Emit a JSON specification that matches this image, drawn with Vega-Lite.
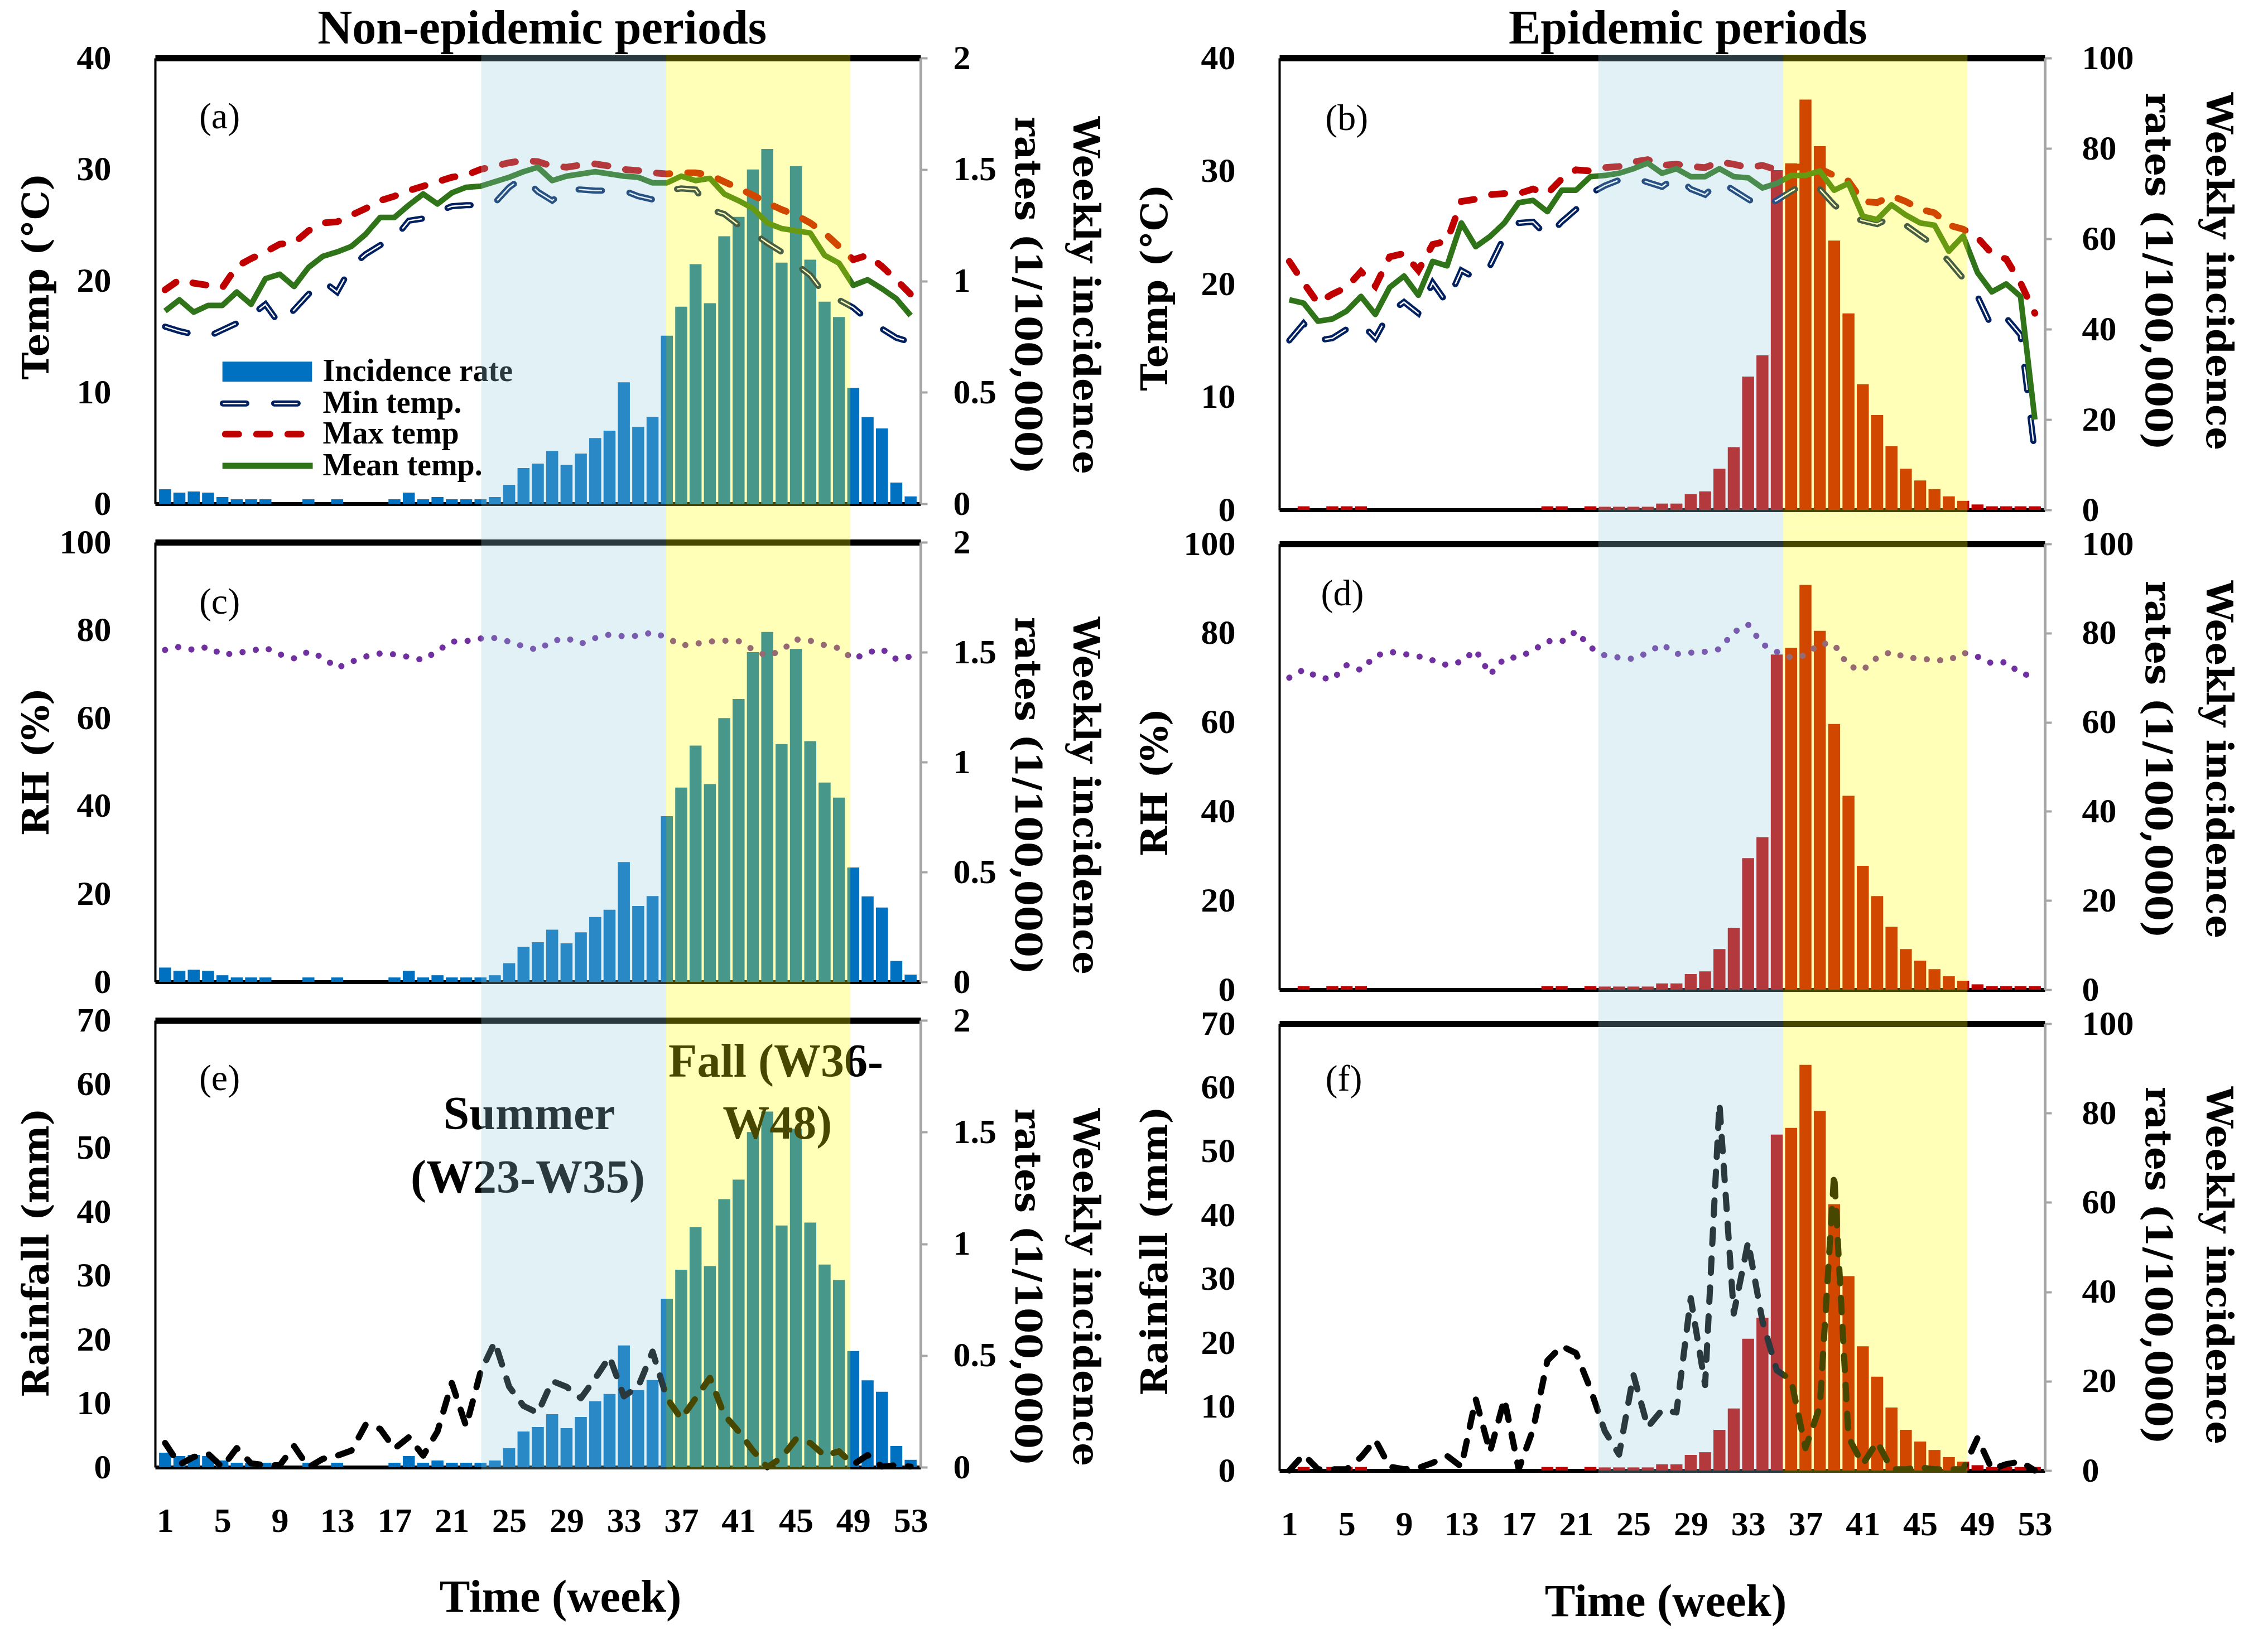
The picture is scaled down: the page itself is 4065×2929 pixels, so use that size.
{
"$schema": "https://vega.github.io/schema/vega-lite/v6.json",
"background": "white",
"padding": {"left": 32, "top": 8, "right": 60, "bottom": 40},
"config": {"view": {"stroke": null}, "axis": {"grid": false}},
"datasets": {
"ne": [
{"week":1,"inc":0.065,"tmin":15.9,"tmax":19.2,"tmean":17.3,"rh":75.5,"rain":3.8},
{"week":2,"inc":0.05,"tmin":15.5,"tmax":20.1,"tmean":18.3,"rh":76.2,"rain":0.4},
{"week":3,"inc":0.055,"tmin":15.2,"tmax":19.8,"tmean":17.2,"rh":75.5,"rain":1.6},
{"week":4,"inc":0.05,"tmin":15.0,"tmax":19.6,"tmean":17.8,"rh":76.2,"rain":2.1},
{"week":5,"inc":0.03,"tmin":15.6,"tmax":19.4,"tmean":17.8,"rh":74.4,"rain":0},
{"week":6,"inc":0.02,"tmin":16.2,"tmax":21.3,"tmean":19.0,"rh":74.8,"rain":3.0},
{"week":7,"inc":0.02,"tmin":16.9,"tmax":22.0,"tmean":17.9,"rh":75.3,"rain":0.6},
{"week":8,"inc":0.02,"tmin":17.9,"tmax":22.6,"tmean":20.2,"rh":76.0,"rain":0.3},
{"week":9,"inc":0,"tmin":16.1,"tmax":23.3,"tmean":20.6,"rh":74.5,"rain":0.3},
{"week":10,"inc":0,"tmin":17.4,"tmax":23.4,"tmean":19.5,"rh":73.6,"rain":3.3},
{"week":11,"inc":0.02,"tmin":18.8,"tmax":24.5,"tmean":21.2,"rh":75.1,"rain":0},
{"week":12,"inc":0,"tmin":20.0,"tmax":25.2,"tmean":22.2,"rh":73.8,"rain":1.3},
{"week":13,"inc":0.02,"tmin":19.0,"tmax":25.3,"tmean":22.6,"rh":71.4,"rain":1.8},
{"week":14,"inc":0,"tmin":21.3,"tmax":25.9,"tmean":23.1,"rh":72.8,"rain":2.6},
{"week":15,"inc":0,"tmin":22.4,"tmax":26.5,"tmean":24.2,"rh":74.0,"rain":6.7},
{"week":16,"inc":0,"tmin":23.2,"tmax":27.2,"tmean":25.7,"rh":74.7,"rain":6.0},
{"week":17,"inc":0.02,"tmin":23.8,"tmax":27.6,"tmean":25.7,"rh":74.5,"rain":2.9},
{"week":18,"inc":0.05,"tmin":25.4,"tmax":28.1,"tmean":26.8,"rh":73.9,"rain":4.7},
{"week":19,"inc":0.02,"tmin":25.6,"tmax":28.5,"tmean":27.8,"rh":73.2,"rain":1.8},
{"week":20,"inc":0.03,"tmin":26.2,"tmax":28.9,"tmean":26.9,"rh":75.3,"rain":5.6},
{"week":21,"inc":0.02,"tmin":26.7,"tmax":29.3,"tmean":27.9,"rh":77.4,"rain":13.2},
{"week":22,"inc":0.02,"tmin":26.8,"tmax":29.5,"tmean":28.4,"rh":77.5,"rain":6.4},
{"week":23,"inc":0.02,"tmin":26.8,"tmax":30.0,"tmean":28.5,"rh":78.1,"rain":14.9},
{"week":24,"inc":0.03,"tmin":27.0,"tmax":30.3,"tmean":28.9,"rh":78.2,"rain":19.6},
{"week":25,"inc":0.085,"tmin":28.4,"tmax":30.6,"tmean":29.3,"rh":77.4,"rain":12.6},
{"week":26,"inc":0.16,"tmin":29.3,"tmax":30.8,"tmean":29.8,"rh":76.3,"rain":9.6},
{"week":27,"inc":0.18,"tmin":28.0,"tmax":30.7,"tmean":30.2,"rh":75.5,"rain":8.5},
{"week":28,"inc":0.237,"tmin":27.2,"tmax":30.3,"tmean":29.0,"rh":77.5,"rain":13.5},
{"week":29,"inc":0.175,"tmin":28.2,"tmax":30.2,"tmean":29.4,"rh":78.2,"rain":12.6},
{"week":30,"inc":0.225,"tmin":28.2,"tmax":30.4,"tmean":29.6,"rh":76.9,"rain":10.8},
{"week":31,"inc":0.295,"tmin":28.1,"tmax":30.5,"tmean":29.8,"rh":78.2,"rain":13.9},
{"week":32,"inc":0.328,"tmin":28.1,"tmax":30.3,"tmean":29.6,"rh":79.0,"rain":17.3},
{"week":33,"inc":0.545,"tmin":28.1,"tmax":30.0,"tmean":29.4,"rh":78.6,"rain":11.1},
{"week":34,"inc":0.345,"tmin":27.6,"tmax":29.9,"tmean":29.3,"rh":78.7,"rain":12.6},
{"week":35,"inc":0.39,"tmin":27.3,"tmax":29.7,"tmean":28.8,"rh":79.5,"rain":18.1},
{"week":36,"inc":0.754,"tmin":28.1,"tmax":29.6,"tmean":28.8,"rh":78.3,"rain":10.8},
{"week":37,"inc":0.884,"tmin":28.3,"tmax":29.7,"tmean":29.4,"rh":76.5,"rain":7.6},
{"week":38,"inc":1.075,"tmin":28.2,"tmax":29.7,"tmean":29.0,"rh":76.9,"rain":10.8},
{"week":39,"inc":0.9,"tmin":26.4,"tmax":29.5,"tmean":29.2,"rh":77.4,"rain":14.0},
{"week":40,"inc":1.2,"tmin":26.0,"tmax":28.9,"tmean":27.8,"rh":77.6,"rain":8.2},
{"week":41,"inc":1.287,"tmin":25.0,"tmax":28.3,"tmean":27.2,"rh":77.5,"rain":5.6},
{"week":42,"inc":1.5,"tmin":24.3,"tmax":27.7,"tmean":26.5,"rh":75.6,"rain":2.6},
{"week":43,"inc":1.592,"tmin":23.4,"tmax":27.0,"tmean":25.2,"rh":74.1,"rain":0},
{"week":44,"inc":1.082,"tmin":22.6,"tmax":26.4,"tmean":24.7,"rh":75.4,"rain":1.5},
{"week":45,"inc":1.515,"tmin":21.5,"tmax":25.9,"tmean":24.5,"rh":77.9,"rain":4.4},
{"week":46,"inc":1.095,"tmin":20.5,"tmax":25.2,"tmean":24.3,"rh":77.6,"rain":3.8},
{"week":47,"inc":0.907,"tmin":18.8,"tmax":24.3,"tmean":22.3,"rh":76.6,"rain":1.8},
{"week":48,"inc":0.838,"tmin":18.3,"tmax":23.1,"tmean":21.6,"rh":75.9,"rain":2.5},
{"week":49,"inc":0.52,"tmin":17.6,"tmax":21.9,"tmean":19.6,"rh":73.4,"rain":0.4},
{"week":50,"inc":0.389,"tmin":16.5,"tmax":22.3,"tmean":20.1,"rh":74.9,"rain":1.9},
{"week":51,"inc":0.338,"tmin":15.7,"tmax":21.3,"tmean":19.3,"rh":75.7,"rain":0.1},
{"week":52,"inc":0.095,"tmin":14.9,"tmax":20.1,"tmean":18.4,"rh":73.4,"rain":0.3},
{"week":53,"inc":0.033,"tmin":14.5,"tmax":18.8,"tmean":16.9,"rh":74.0,"rain":0.1}
],
"ep": [
{"week":1,"inc":0,"tmin":15.0,"tmax":22.0,"tmean":18.6,"rh":70.0,"rain":0},
{"week":2,"inc":0.8,"tmin":16.5,"tmax":20.1,"tmean":18.3,"rh":71.8,"rain":2.5},
{"week":3,"inc":0,"tmin":15.0,"tmax":18.3,"tmean":16.7,"rh":70.1,"rain":0.2},
{"week":4,"inc":0.8,"tmin":15.2,"tmax":19.1,"tmean":16.9,"rh":69.6,"rain":0.2},
{"week":5,"inc":0.8,"tmin":16.0,"tmax":19.7,"tmean":17.6,"rh":72.8,"rain":0.2},
{"week":6,"inc":0.8,"tmin":16.5,"tmax":21.1,"tmean":18.9,"rh":71.7,"rain":2.1},
{"week":7,"inc":0,"tmin":15.2,"tmax":19.8,"tmean":17.3,"rh":74.9,"rain":4.8},
{"week":8,"inc":0,"tmin":17.5,"tmax":22.4,"tmean":19.7,"rh":75.8,"rain":0.6},
{"week":9,"inc":0,"tmin":18.4,"tmax":22.7,"tmean":20.7,"rh":75.3,"rain":0.2},
{"week":10,"inc":0,"tmin":17.4,"tmax":21.2,"tmean":19.0,"rh":74.8,"rain":0.4},
{"week":11,"inc":0,"tmin":20.1,"tmax":23.5,"tmean":22.0,"rh":73.9,"rain":1.2},
{"week":12,"inc":0,"tmin":18.3,"tmax":23.8,"tmean":21.6,"rh":72.8,"rain":2.3},
{"week":13,"inc":0,"tmin":21.2,"tmax":27.3,"tmean":25.4,"rh":73.6,"rain":0.6},
{"week":14,"inc":0,"tmin":20.5,"tmax":27.5,"tmean":23.3,"rh":76.2,"rain":11.2},
{"week":15,"inc":0,"tmin":21.6,"tmax":27.9,"tmean":24.2,"rh":70.7,"rain":2.9},
{"week":16,"inc":0,"tmin":24.2,"tmax":28.0,"tmean":25.4,"rh":74.3,"rain":11.2},
{"week":17,"inc":0,"tmin":25.4,"tmax":28.0,"tmean":27.2,"rh":74.6,"rain":0.2},
{"week":18,"inc":0,"tmin":25.5,"tmax":28.4,"tmean":27.4,"rh":76.1,"rain":6.4},
{"week":19,"inc":0.8,"tmin":24.2,"tmax":28.0,"tmean":26.4,"rh":78.2,"rain":17.2},
{"week":20,"inc":0.8,"tmin":25.5,"tmax":29.3,"tmean":28.3,"rh":78.1,"rain":19.5},
{"week":21,"inc":0,"tmin":26.6,"tmax":30.1,"tmean":28.3,"rh":80.4,"rain":18.4},
{"week":22,"inc":0.8,"tmin":28.0,"tmax":30.0,"tmean":29.5,"rh":76.8,"rain":12.8},
{"week":23,"inc":0.7,"tmin":28.7,"tmax":30.3,"tmean":29.6,"rh":75.0,"rain":6.2},
{"week":24,"inc":0.7,"tmin":29.2,"tmax":30.4,"tmean":29.8,"rh":74.5,"rain":2.5},
{"week":25,"inc":0.7,"tmin":29.4,"tmax":30.8,"tmean":30.2,"rh":74.2,"rain":15.0},
{"week":26,"inc":0.7,"tmin":29.0,"tmax":31.0,"tmean":30.7,"rh":75.6,"rain":6.8},
{"week":27,"inc":1.4,"tmin":28.6,"tmax":30.5,"tmean":29.8,"rh":77.5,"rain":9.5},
{"week":28,"inc":1.4,"tmin":29.5,"tmax":30.6,"tmean":30.2,"rh":75.3,"rain":9.1},
{"week":29,"inc":3.5,"tmin":28.4,"tmax":30.4,"tmean":29.5,"rh":75.6,"rain":27.0},
{"week":30,"inc":4.1,"tmin":27.9,"tmax":30.3,"tmean":29.5,"rh":75.8,"rain":13.4},
{"week":31,"inc":9.1,"tmin":29.1,"tmax":30.8,"tmean":30.2,"rh":76.4,"rain":57.5},
{"week":32,"inc":13.9,"tmin":28.3,"tmax":30.6,"tmean":29.5,"rh":80.2,"rain":24.6},
{"week":33,"inc":29.5,"tmin":27.5,"tmax":30.3,"tmean":29.4,"rh":81.9,"rain":35.8},
{"week":34,"inc":34.2,"tmin":26.8,"tmax":30.5,"tmean":28.5,"rh":77.5,"rain":23.4},
{"week":35,"inc":75.2,"tmin":27.4,"tmax":30.1,"tmean":28.9,"rh":75.8,"rain":15.7},
{"week":36,"inc":76.7,"tmin":28.2,"tmax":30.3,"tmean":29.6,"rh":74.5,"rain":14.2},
{"week":37,"inc":90.8,"tmin":28.9,"tmax":30.4,"tmean":29.6,"rh":75.0,"rain":3.5},
{"week":38,"inc":80.5,"tmin":28.4,"tmax":30.2,"tmean":30.0,"rh":77.7,"rain":10.0},
{"week":39,"inc":59.6,"tmin":27.0,"tmax":29.6,"tmean":28.3,"rh":77.5,"rain":46.5},
{"week":40,"inc":43.5,"tmin":26.0,"tmax":29.1,"tmean":28.9,"rh":72.6,"rain":5.2},
{"week":41,"inc":27.8,"tmin":25.6,"tmax":27.3,"tmean":26.0,"rh":71.7,"rain":1.0},
{"week":42,"inc":21.0,"tmin":25.3,"tmax":27.2,"tmean":25.7,"rh":74.5,"rain":4.5},
{"week":43,"inc":14.1,"tmin":25.9,"tmax":27.8,"tmean":27.0,"rh":75.8,"rain":0.2},
{"week":44,"inc":9.1,"tmin":25.2,"tmax":27.3,"tmean":26.1,"rh":74.5,"rain":0.2},
{"week":45,"inc":6.5,"tmin":24.3,"tmax":26.6,"tmean":25.4,"rh":74.3,"rain":0.5},
{"week":46,"inc":4.6,"tmin":23.4,"tmax":26.3,"tmean":25.2,"rh":73.9,"rain":0.2},
{"week":47,"inc":3.0,"tmin":22.0,"tmax":25.2,"tmean":22.9,"rh":73.9,"rain":0.2},
{"week":48,"inc":2.0,"tmin":20.5,"tmax":24.85,"tmean":24.25,"rh":75.6,"rain":0.2},
{"week":49,"inc":1.2,"tmin":18.9,"tmax":24.1,"tmean":21.0,"rh":74.7,"rain":5.1},
{"week":50,"inc":0.8,"tmin":16.2,"tmax":22.7,"tmean":19.3,"rh":73.2,"rain":0.2},
{"week":51,"inc":0.8,"tmin":17.0,"tmax":22.2,"tmean":20.0,"rh":73.5,"rain":1.0},
{"week":52,"inc":0.8,"tmin":15.5,"tmax":20.1,"tmean":18.9,"rh":70.9,"rain":1.4},
{"week":53,"inc":0.8,"tmin":5.0,"tmax":17.4,"tmean":8.0,"rh":70.3,"rain":0}
]
},
"hconcat": [
{"vconcat": [
{
"width": 1372, "height": 799, "data": {"name": "ne"},
"layer": [
{"mark": {"type": "bar", "orient": "vertical", "width": 21.5, "color": "#0070C0"},
 "encoding": {
  "x": {"field": "week", "type": "quantitative", "scale": {"domain": [0.5, 53.5], "nice": false, "zero": false}, "axis": {"orient": "bottom", "labels": false, "ticks": false, "title": null, "domainColor": "#000000", "domainWidth": 7, "grid": false}},
  "y": {"field": "inc", "type": "quantitative", "scale": {"domain": [0, 2], "nice": false}, "axis": {"orient": "right", "values": [0, 0.5, 1, 1.5, 2], "format": "~g", "labelFont": "Liberation Serif", "labelFontSize": 62, "labelFontWeight": "bold", "labelColor": "#000000", "labelPadding": 46, "labelFlush": false, "labelOverlap": false, "ticks": true, "tickColor": "#A6A6A6", "tickWidth": 4, "tickSize": 12, "domainColor": "#A6A6A6", "domainWidth": 5, "grid": false, "title": ["Weekly incidence", "rates (1/100,000)"], "titleFont": "DejaVu Serif", "titleFontSize": 66, "titleFontWeight": "bold", "titleColor": "#000000", "titleAngle": 90, "titleAlign": "center", "titleBaseline": "middle", "titleLineHeight": 104, "titleX": 293, "titleY": 425}}
 }},
{"layer": [
 {"mark": {"type": "line", "color": "#002060", "strokeWidth": 11, "strokeDash": [42, 50], "strokeCap": "round"},
  "encoding": {
   "x": {"field": "week", "type": "quantitative", "axis": {"orient": "top", "labels": false, "ticks": false, "title": null, "domainColor": "#000000", "domainWidth": 11, "grid": false}},
   "y": {"field": "tmin", "type": "quantitative", "scale": {"domain": [0, 40], "nice": false}, "axis": {"orient": "left", "values": [0, 10, 20, 30, 40], "labelFont": "Liberation Serif", "labelFontSize": 62, "labelFontWeight": "bold", "labelColor": "#000000", "labelPadding": 79, "labelFlush": false, "labelOverlap": false, "ticks": false, "domainColor": "#000000", "domainWidth": 4, "grid": false, "title": "Temp (°C)", "titleFont": "DejaVu Serif", "titleFontSize": 66, "titleFontWeight": "bold", "titleColor": "#000000", "titleAngle": -90, "titleAlign": "center", "titleBaseline": "middle", "titleX": -212, "titleY": 391}}}},
 {"mark": {"type": "line", "color": "#FFFFFF", "strokeWidth": 2.5, "strokeDash": [42, 50], "strokeCap": "butt"},
  "encoding": {"x": {"field": "week", "type": "quantitative"}, "y": {"field": "tmin", "type": "quantitative"}}},
 {"mark": {"type": "line", "color": "#C00000", "strokeWidth": 12, "strokeDash": [24, 32], "strokeCap": "round"},
  "encoding": {"x": {"field": "week", "type": "quantitative"}, "y": {"field": "tmax", "type": "quantitative"}}},
 {"mark": {"type": "line", "color": "#2F7418", "strokeWidth": 10, "strokeJoin": "round"},
  "encoding": {"x": {"field": "week", "type": "quantitative"}, "y": {"field": "tmean", "type": "quantitative"}}},
 {"data": {"values": [{}]}, "mark": {"type": "rect", "color": "#0070C0"},
  "encoding": {"x": {"datum": 5.0}, "x2": {"datum": 11.25}, "y": {"datum": 10.95}, "y2": {"datum": 12.75}}},
 {"data": {"values": [{}]}, "mark": {"type": "rule", "color": "#002060", "strokeWidth": 11, "strokeDash": [42, 50], "strokeCap": "round"},
  "encoding": {"x": {"datum": 5.03}, "x2": {"datum": 10.9}, "y": {"datum": 9.0}}},
 {"data": {"values": [{}]}, "mark": {"type": "rule", "color": "#FFFFFF", "strokeWidth": 2.5, "strokeDash": [42, 50], "strokeCap": "butt"},
  "encoding": {"x": {"datum": 5.03}, "x2": {"datum": 10.9}, "y": {"datum": 9.0}}},
 {"data": {"values": [{}]}, "mark": {"type": "rule", "color": "#C00000", "strokeWidth": 12, "strokeDash": [24, 32], "strokeCap": "round"},
  "encoding": {"x": {"datum": 5.2}, "x2": {"datum": 11.1}, "y": {"datum": 6.25}}},
 {"data": {"values": [{}]}, "mark": {"type": "rule", "color": "#2F7418", "strokeWidth": 11},
  "encoding": {"x": {"datum": 5.0}, "x2": {"datum": 11.3}, "y": {"datum": 3.4}}},
 {"data": {"values": [{}]}, "mark": {"type": "text", "text": "Incidence rate", "font": "Liberation Serif", "fontSize": 56, "fontWeight": "bold", "align": "left", "baseline": "middle", "color": "#000000"},
  "encoding": {"x": {"datum": 12.0}, "y": {"datum": 11.85}}},
 {"data": {"values": [{}]}, "mark": {"type": "text", "text": "Min temp.", "font": "Liberation Serif", "fontSize": 56, "fontWeight": "bold", "align": "left", "baseline": "middle", "color": "#000000"},
  "encoding": {"x": {"datum": 12.0}, "y": {"datum": 9.0}}},
 {"data": {"values": [{}]}, "mark": {"type": "text", "text": "Max temp", "font": "Liberation Serif", "fontSize": 56, "fontWeight": "bold", "align": "left", "baseline": "middle", "color": "#000000"},
  "encoding": {"x": {"datum": 12.0}, "y": {"datum": 6.25}}},
 {"data": {"values": [{}]}, "mark": {"type": "text", "text": "Mean temp.", "font": "Liberation Serif", "fontSize": 56, "fontWeight": "bold", "align": "left", "baseline": "middle", "color": "#000000"},
  "encoding": {"x": {"datum": 12.0}, "y": {"datum": 3.4}}},
 {"data": {"values": [{}]}, "mark": {"type": "text", "text": "(a)", "font": "Liberation Serif", "fontSize": 66, "align": "center", "baseline": "middle", "color": "#000000"},
  "encoding": {"x": {"datum": 4.8}, "y": {"datum": 34.7}}},
 {"data": {"values": [{}]}, "mark": {"type": "text", "text": "Non-epidemic periods", "font": "Liberation Serif", "fontSize": 86, "fontWeight": "bold", "align": "center", "baseline": "alphabetic", "color": "#000000"},
  "encoding": {"x": {"datum": 27.3}, "y": {"datum": 41.3}}},
 {"data": {"values": [{}]}, "mark": {"type": "rect", "color": "#92CDDC", "opacity": 0.28},
  "encoding": {"x": {"datum": 23.05}, "x2": {"datum": 35.95}, "y": {"datum": -1.727}, "y2": {"datum": 40.3}}},
 {"data": {"values": [{}]}, "mark": {"type": "rect", "color": "#FFFF00", "opacity": 0.28},
  "encoding": {"x": {"datum": 35.95}, "x2": {"datum": 48.8}, "y": {"datum": -1.727}, "y2": {"datum": 40.3}}}
]}
],
"resolve": {"scale": {"y": "independent"}, "axis": {"x": "independent"}}
},
{
"width": 1372, "height": 788, "data": {"name": "ne"},
"layer": [
{"mark": {"type": "bar", "orient": "vertical", "width": 21.5, "color": "#0070C0"},
 "encoding": {
  "x": {"field": "week", "type": "quantitative", "scale": {"domain": [0.5, 53.5], "nice": false, "zero": false}, "axis": {"orient": "bottom", "labels": false, "ticks": false, "title": null, "domainColor": "#000000", "domainWidth": 7, "grid": false}},
  "y": {"field": "inc", "type": "quantitative", "scale": {"domain": [0, 2], "nice": false}, "axis": {"orient": "right", "values": [0, 0.5, 1, 1.5, 2], "format": "~g", "labelFont": "Liberation Serif", "labelFontSize": 62, "labelFontWeight": "bold", "labelColor": "#000000", "labelPadding": 46, "labelFlush": false, "labelOverlap": false, "ticks": true, "tickColor": "#A6A6A6", "tickWidth": 4, "tickSize": 12, "domainColor": "#A6A6A6", "domainWidth": 5, "grid": false, "title": ["Weekly incidence", "rates (1/100,000)"], "titleFont": "DejaVu Serif", "titleFontSize": 66, "titleFontWeight": "bold", "titleColor": "#000000", "titleAngle": 90, "titleAlign": "center", "titleBaseline": "middle", "titleLineHeight": 104, "titleX": 293, "titleY": 454}}
 }},
{"layer": [
 {"mark": {"type": "line", "color": "#7030A0", "strokeWidth": 11, "strokeDash": [0.1, 24], "strokeCap": "round"},
  "encoding": {
   "x": {"field": "week", "type": "quantitative", "axis": {"orient": "top", "labels": false, "ticks": false, "title": null, "domainColor": "#000000", "domainWidth": 11, "grid": false}},
   "y": {"field": "rh", "type": "quantitative", "scale": {"domain": [0, 100], "nice": false}, "axis": {"orient": "left", "values": [0, 20, 40, 60, 80, 100], "labelFont": "Liberation Serif", "labelFontSize": 62, "labelFontWeight": "bold", "labelColor": "#000000", "labelPadding": 79, "labelFlush": false, "labelOverlap": false, "ticks": false, "domainColor": "#000000", "domainWidth": 4, "grid": false, "title": "RH (%)", "titleFont": "DejaVu Serif", "titleFontSize": 66, "titleFontWeight": "bold", "titleColor": "#000000", "titleAngle": -90, "titleAlign": "center", "titleBaseline": "middle", "titleX": -212, "titleY": 393}}}},
 {"data": {"values": [{}]}, "mark": {"type": "text", "text": "(c)", "font": "Liberation Serif", "fontSize": 66, "align": "center", "baseline": "middle", "color": "#000000"},
  "encoding": {"x": {"datum": 4.8}, "y": {"datum": 86.3}}},
 {"data": {"values": [{}]}, "mark": {"type": "rect", "color": "#92CDDC", "opacity": 0.28},
  "encoding": {"x": {"datum": 23.05}, "x2": {"datum": 35.95}, "y": {"datum": -4.378}, "y2": {"datum": 104.378}}},
 {"data": {"values": [{}]}, "mark": {"type": "rect", "color": "#FFFF00", "opacity": 0.28},
  "encoding": {"x": {"datum": 35.95}, "x2": {"datum": 48.8}, "y": {"datum": -4.378}, "y2": {"datum": 104.378}}}
]}
],
"resolve": {"scale": {"y": "independent"}, "axis": {"x": "independent"}}
},
{
"width": 1372, "height": 801, "data": {"name": "ne"},
"layer": [
{"mark": {"type": "bar", "orient": "vertical", "width": 21.5, "color": "#0070C0"},
 "encoding": {
  "x": {"field": "week", "type": "quantitative", "scale": {"domain": [0.5, 53.5], "nice": false, "zero": false}, "axis": {"orient": "bottom", "values": [1, 5, 9, 13, 17, 21, 25, 29, 33, 37, 41, 45, 49, 53], "format": "d", "labelFont": "Liberation Serif", "labelFontSize": 62, "labelFontWeight": "bold", "labelColor": "#000000", "labelPadding": 66, "labelFlush": false, "labelOverlap": false, "ticks": false, "domainColor": "#000000", "domainWidth": 7, "grid": false, "title": "Time (week)", "titleFont": "Liberation Serif", "titleFontSize": 82, "titleFontWeight": "bold", "titleColor": "#000000", "titleAlign": "center", "titleBaseline": "alphabetic", "titleX": 726, "titleY": 258}},
  "y": {"field": "inc", "type": "quantitative", "scale": {"domain": [0, 2], "nice": false}, "axis": {"orient": "right", "values": [0, 0.5, 1, 1.5, 2], "format": "~g", "labelFont": "Liberation Serif", "labelFontSize": 62, "labelFontWeight": "bold", "labelColor": "#000000", "labelPadding": 46, "labelFlush": false, "labelOverlap": false, "ticks": true, "tickColor": "#A6A6A6", "tickWidth": 4, "tickSize": 12, "domainColor": "#A6A6A6", "domainWidth": 5, "grid": false, "title": ["Weekly incidence", "rates (1/100,000)"], "titleFont": "DejaVu Serif", "titleFontSize": 66, "titleFontWeight": "bold", "titleColor": "#000000", "titleAngle": 90, "titleAlign": "center", "titleBaseline": "middle", "titleLineHeight": 104, "titleX": 293, "titleY": 478}}
 }},
{"layer": [
 {"mark": {"type": "line", "color": "#000000", "strokeWidth": 11, "strokeDash": [26, 26], "strokeCap": "round", "strokeJoin": "round"},
  "encoding": {
   "x": {"field": "week", "type": "quantitative", "axis": {"orient": "top", "labels": false, "ticks": false, "title": null, "domainColor": "#000000", "domainWidth": 11, "grid": false}},
   "y": {"field": "rain", "type": "quantitative", "scale": {"domain": [0, 70], "nice": false}, "axis": {"orient": "left", "values": [0, 10, 20, 30, 40, 50, 60, 70], "labelFont": "Liberation Serif", "labelFontSize": 62, "labelFontWeight": "bold", "labelColor": "#000000", "labelPadding": 79, "labelFlush": false, "labelOverlap": false, "ticks": false, "domainColor": "#000000", "domainWidth": 4, "grid": false, "title": "Rainfall (mm)", "titleFont": "DejaVu Serif", "titleFontSize": 66, "titleFontWeight": "bold", "titleColor": "#000000", "titleAngle": -90, "titleAlign": "center", "titleBaseline": "middle", "titleX": -212, "titleY": 416}}}},
 {"data": {"values": [{}]}, "mark": {"type": "text", "text": "(e)", "font": "Liberation Serif", "fontSize": 66, "align": "center", "baseline": "middle", "color": "#000000"},
  "encoding": {"x": {"datum": 4.8}, "y": {"datum": 60.8}}},
 {"data": {"values": [{}]}, "mark": {"type": "text", "text": "Summer", "font": "Liberation Serif", "fontSize": 84, "fontWeight": "bold", "align": "center", "baseline": "middle", "color": "#000000"},
  "encoding": {"x": {"datum": 26.4}, "y": {"datum": 55.1}}},
 {"data": {"values": [{}]}, "mark": {"type": "text", "text": "(W23-W35)", "font": "Liberation Serif", "fontSize": 84, "fontWeight": "bold", "align": "center", "baseline": "middle", "color": "#000000"},
  "encoding": {"x": {"datum": 26.3}, "y": {"datum": 45.2}}},
 {"data": {"values": [{}]}, "mark": {"type": "text", "text": "Fall (W36-", "font": "Liberation Serif", "fontSize": 84, "fontWeight": "bold", "align": "center", "baseline": "middle", "color": "#000000"},
  "encoding": {"x": {"datum": 43.6}, "y": {"datum": 63.4}}},
 {"data": {"values": [{}]}, "mark": {"type": "text", "text": "W48)", "font": "Liberation Serif", "fontSize": 84, "fontWeight": "bold", "align": "center", "baseline": "middle", "color": "#000000"},
  "encoding": {"x": {"datum": 43.7}, "y": {"datum": 53.7}}},
 {"data": {"values": [{}]}, "mark": {"type": "rect", "color": "#92CDDC", "opacity": 0.28},
  "encoding": {"x": {"datum": 23.05}, "x2": {"datum": 35.95}, "y": {"datum": -0.35}, "y2": {"datum": 73.015}}},
 {"data": {"values": [{}]}, "mark": {"type": "rect", "color": "#FFFF00", "opacity": 0.28},
  "encoding": {"x": {"datum": 35.95}, "x2": {"datum": 48.8}, "y": {"datum": -0.35}, "y2": {"datum": 73.015}}}
]}
],
"resolve": {"scale": {"y": "independent"}, "axis": {"x": "independent"}}
}
], "spacing": 69, "bounds": "flush"},
{"vconcat": [
{
"width": 1372, "height": 810, "data": {"name": "ep"},
"layer": [
{"mark": {"type": "bar", "orient": "vertical", "width": 21.5, "color": "#C00000"},
 "encoding": {
  "x": {"field": "week", "type": "quantitative", "scale": {"domain": [0.5, 53.5], "nice": false, "zero": false}, "axis": {"orient": "bottom", "labels": false, "ticks": false, "title": null, "domainColor": "#000000", "domainWidth": 7, "grid": false}},
  "y": {"field": "inc", "type": "quantitative", "scale": {"domain": [0, 100], "nice": false}, "axis": {"orient": "right", "values": [0, 20, 40, 60, 80, 100], "format": "d", "labelFont": "Liberation Serif", "labelFontSize": 62, "labelFontWeight": "bold", "labelColor": "#000000", "labelPadding": 54, "labelFlush": false, "labelOverlap": false, "ticks": true, "tickColor": "#A6A6A6", "tickWidth": 4, "tickSize": 12, "domainColor": "#A6A6A6", "domainWidth": 5, "grid": false, "title": ["Weekly incidence", "rates (1/100,000)"], "titleFont": "DejaVu Serif", "titleFontSize": 66, "titleFontWeight": "bold", "titleColor": "#000000", "titleAngle": 90, "titleAlign": "center", "titleBaseline": "middle", "titleLineHeight": 109, "titleX": 309, "titleY": 382}}
 }},
{"layer": [
 {"mark": {"type": "line", "color": "#002060", "strokeWidth": 11, "strokeDash": [42, 50], "strokeCap": "round"},
  "encoding": {
   "x": {"field": "week", "type": "quantitative", "axis": {"orient": "top", "labels": false, "ticks": false, "title": null, "domainColor": "#000000", "domainWidth": 11, "grid": false}},
   "y": {"field": "tmin", "type": "quantitative", "scale": {"domain": [0, 40], "nice": false}, "axis": {"orient": "left", "values": [0, 10, 20, 30, 40], "labelFont": "Liberation Serif", "labelFontSize": 62, "labelFontWeight": "bold", "labelColor": "#000000", "labelPadding": 79, "labelFlush": false, "labelOverlap": false, "ticks": false, "domainColor": "#000000", "domainWidth": 4, "grid": false, "title": "Temp (°C)", "titleFont": "DejaVu Serif", "titleFontSize": 66, "titleFontWeight": "bold", "titleColor": "#000000", "titleAngle": -90, "titleAlign": "center", "titleBaseline": "middle", "titleX": -222, "titleY": 411}}}},
 {"mark": {"type": "line", "color": "#FFFFFF", "strokeWidth": 2.5, "strokeDash": [42, 50], "strokeCap": "butt"},
  "encoding": {"x": {"field": "week", "type": "quantitative"}, "y": {"field": "tmin", "type": "quantitative"}}},
 {"mark": {"type": "line", "color": "#C00000", "strokeWidth": 12, "strokeDash": [24, 32], "strokeCap": "round"},
  "encoding": {"x": {"field": "week", "type": "quantitative"}, "y": {"field": "tmax", "type": "quantitative"}}},
 {"mark": {"type": "line", "color": "#2F7418", "strokeWidth": 10, "strokeJoin": "round"},
  "encoding": {"x": {"field": "week", "type": "quantitative"}, "y": {"field": "tmean", "type": "quantitative"}}},
 {"data": {"values": [{}]}, "mark": {"type": "text", "text": "(b)", "font": "Liberation Serif", "fontSize": 66, "align": "center", "baseline": "middle", "color": "#000000"},
  "encoding": {"x": {"datum": 5.0}, "y": {"datum": 34.6}}},
 {"data": {"values": [{}]}, "mark": {"type": "text", "text": "Epidemic periods", "font": "Liberation Serif", "fontSize": 86, "fontWeight": "bold", "align": "center", "baseline": "alphabetic", "color": "#000000"},
  "encoding": {"x": {"datum": 28.8}, "y": {"datum": 41.3}}},
 {"data": {"values": [{}]}, "mark": {"type": "rect", "color": "#92CDDC", "opacity": 0.28},
  "encoding": {"x": {"datum": 22.55}, "x2": {"datum": 35.45}, "y": {"datum": -1.506}, "y2": {"datum": 40.3}}},
 {"data": {"values": [{}]}, "mark": {"type": "rect", "color": "#FFFF00", "opacity": 0.28},
  "encoding": {"x": {"datum": 35.45}, "x2": {"datum": 48.3}, "y": {"datum": -1.506}, "y2": {"datum": 40.3}}}
]}
],
"resolve": {"scale": {"y": "independent"}, "axis": {"x": "independent"}}
},
{
"width": 1372, "height": 799, "data": {"name": "ep"},
"layer": [
{"mark": {"type": "bar", "orient": "vertical", "width": 21.5, "color": "#C00000"},
 "encoding": {
  "x": {"field": "week", "type": "quantitative", "scale": {"domain": [0.5, 53.5], "nice": false, "zero": false}, "axis": {"orient": "bottom", "labels": false, "ticks": false, "title": null, "domainColor": "#000000", "domainWidth": 7, "grid": false}},
  "y": {"field": "inc", "type": "quantitative", "scale": {"domain": [0, 100], "nice": false}, "axis": {"orient": "right", "values": [0, 20, 40, 60, 80, 100], "format": "d", "labelFont": "Liberation Serif", "labelFontSize": 62, "labelFontWeight": "bold", "labelColor": "#000000", "labelPadding": 54, "labelFlush": false, "labelOverlap": false, "ticks": true, "tickColor": "#A6A6A6", "tickWidth": 4, "tickSize": 12, "domainColor": "#A6A6A6", "domainWidth": 5, "grid": false, "title": ["Weekly incidence", "rates (1/100,000)"], "titleFont": "DejaVu Serif", "titleFontSize": 66, "titleFontWeight": "bold", "titleColor": "#000000", "titleAngle": 90, "titleAlign": "center", "titleBaseline": "middle", "titleLineHeight": 109, "titleX": 309, "titleY": 386}}
 }},
{"layer": [
 {"mark": {"type": "line", "color": "#7030A0", "strokeWidth": 11, "strokeDash": [0.1, 24], "strokeCap": "round"},
  "encoding": {
   "x": {"field": "week", "type": "quantitative", "axis": {"orient": "top", "labels": false, "ticks": false, "title": null, "domainColor": "#000000", "domainWidth": 11, "grid": false}},
   "y": {"field": "rh", "type": "quantitative", "scale": {"domain": [0, 100], "nice": false}, "axis": {"orient": "left", "values": [0, 20, 40, 60, 80, 100], "labelFont": "Liberation Serif", "labelFontSize": 62, "labelFontWeight": "bold", "labelColor": "#000000", "labelPadding": 79, "labelFlush": false, "labelOverlap": false, "ticks": false, "domainColor": "#000000", "domainWidth": 4, "grid": false, "title": "RH (%)", "titleFont": "DejaVu Serif", "titleFontSize": 66, "titleFontWeight": "bold", "titleColor": "#000000", "titleAngle": -90, "titleAlign": "center", "titleBaseline": "middle", "titleX": -222, "titleY": 427}}}},
 {"data": {"values": [{}]}, "mark": {"type": "text", "text": "(d)", "font": "Liberation Serif", "fontSize": 66, "align": "center", "baseline": "middle", "color": "#000000"},
  "encoding": {"x": {"datum": 4.7}, "y": {"datum": 88.7}}},
 {"data": {"values": [{}]}, "mark": {"type": "rect", "color": "#92CDDC", "opacity": 0.28},
  "encoding": {"x": {"datum": 22.55}, "x2": {"datum": 35.45}, "y": {"datum": -3.817}, "y2": {"datum": 103.817}}},
 {"data": {"values": [{}]}, "mark": {"type": "rect", "color": "#FFFF00", "opacity": 0.28},
  "encoding": {"x": {"datum": 35.45}, "x2": {"datum": 48.3}, "y": {"datum": -3.817}, "y2": {"datum": 103.817}}}
]}
],
"resolve": {"scale": {"y": "independent"}, "axis": {"x": "independent"}}
},
{
"width": 1372, "height": 801, "data": {"name": "ep"},
"layer": [
{"mark": {"type": "bar", "orient": "vertical", "width": 21.5, "color": "#C00000"},
 "encoding": {
  "x": {"field": "week", "type": "quantitative", "scale": {"domain": [0.5, 53.5], "nice": false, "zero": false}, "axis": {"orient": "bottom", "values": [1, 5, 9, 13, 17, 21, 25, 29, 33, 37, 41, 45, 49, 53], "format": "d", "labelFont": "Liberation Serif", "labelFontSize": 62, "labelFontWeight": "bold", "labelColor": "#000000", "labelPadding": 66, "labelFlush": false, "labelOverlap": false, "ticks": false, "domainColor": "#000000", "domainWidth": 7, "grid": false, "title": "Time (week)", "titleFont": "Liberation Serif", "titleFontSize": 82, "titleFontWeight": "bold", "titleColor": "#000000", "titleAlign": "center", "titleBaseline": "alphabetic", "titleX": 692, "titleY": 260}},
  "y": {"field": "inc", "type": "quantitative", "scale": {"domain": [0, 100], "nice": false}, "axis": {"orient": "right", "values": [0, 20, 40, 60, 80, 100], "format": "d", "labelFont": "Liberation Serif", "labelFontSize": 62, "labelFontWeight": "bold", "labelColor": "#000000", "labelPadding": 54, "labelFlush": false, "labelOverlap": false, "ticks": true, "tickColor": "#A6A6A6", "tickWidth": 4, "tickSize": 12, "domainColor": "#A6A6A6", "domainWidth": 5, "grid": false, "title": ["Weekly incidence", "rates (1/100,000)"], "titleFont": "DejaVu Serif", "titleFontSize": 66, "titleFontWeight": "bold", "titleColor": "#000000", "titleAngle": 90, "titleAlign": "center", "titleBaseline": "middle", "titleLineHeight": 109, "titleX": 309, "titleY": 433}}
 }},
{"layer": [
 {"mark": {"type": "line", "color": "#000000", "strokeWidth": 11, "strokeDash": [26, 26], "strokeCap": "round", "strokeJoin": "round"},
  "encoding": {
   "x": {"field": "week", "type": "quantitative", "axis": {"orient": "top", "labels": false, "ticks": false, "title": null, "domainColor": "#000000", "domainWidth": 11, "grid": false}},
   "y": {"field": "rain", "type": "quantitative", "scale": {"domain": [0, 70], "nice": false}, "axis": {"orient": "left", "values": [0, 10, 20, 30, 40, 50, 60, 70], "labelFont": "Liberation Serif", "labelFontSize": 62, "labelFontWeight": "bold", "labelColor": "#000000", "labelPadding": 79, "labelFlush": false, "labelOverlap": false, "ticks": false, "domainColor": "#000000", "domainWidth": 4, "grid": false, "title": "Rainfall (mm)", "titleFont": "DejaVu Serif", "titleFontSize": 66, "titleFontWeight": "bold", "titleColor": "#000000", "titleAngle": -90, "titleAlign": "center", "titleBaseline": "middle", "titleX": -222, "titleY": 407}}}},
 {"data": {"values": [{}]}, "mark": {"type": "text", "text": "(f)", "font": "Liberation Serif", "fontSize": 66, "align": "center", "baseline": "middle", "color": "#000000"},
  "encoding": {"x": {"datum": 4.8}, "y": {"datum": 61.3}}},
 {"data": {"values": [{}]}, "mark": {"type": "rect", "color": "#92CDDC", "opacity": 0.28},
  "encoding": {"x": {"datum": 22.55}, "x2": {"datum": 35.45}, "y": {"datum": -0.35}, "y2": {"datum": 72.665}}},
 {"data": {"values": [{}]}, "mark": {"type": "rect", "color": "#FFFF00", "opacity": 0.28},
  "encoding": {"x": {"datum": 35.45}, "x2": {"datum": 48.3}, "y": {"datum": -0.35}, "y2": {"datum": 72.665}}}
]}
],
"resolve": {"scale": {"y": "independent"}, "axis": {"x": "independent"}}
}
], "spacing": 61, "bounds": "flush"}
],
"spacing": 2015,
"bounds": "flush"
}
